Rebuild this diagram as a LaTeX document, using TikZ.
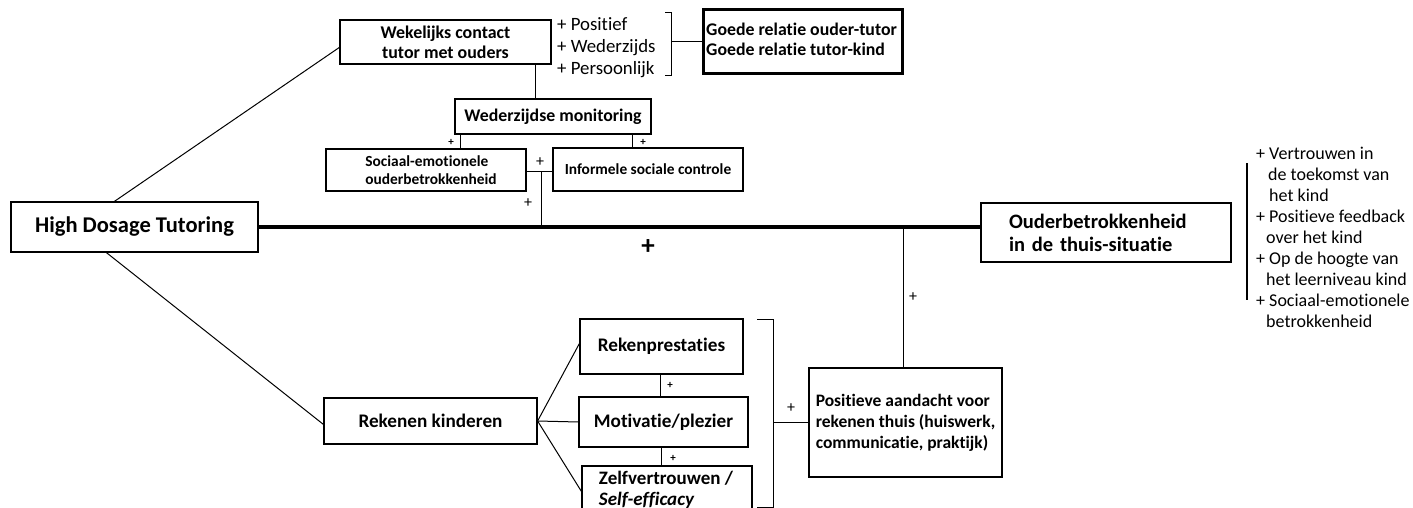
\documentclass[tikz,border=0pt]{standalone}
\usepackage{fontspec}
\setmainfont{Carlito}[Ligatures=NoCommon]
\usetikzlibrary{calc}
\newcommand{\fsz}[2]{\fontsize{#1}{#2}\selectfont}
\begin{document}
\begin{tikzpicture}[x=1pt,y=-1pt,
  box/.style={draw, line width=1.2pt, inner sep=0pt, align=center},
  conn/.style={line width=1pt},
  thickconn/.style={line width=3.5pt},
  plus/.style={inner sep=0pt, font=\fsz{16}{18}},
  smallplus/.style={inner sep=0pt, font=\bfseries\fsz{11}{12}},
  bigplus/.style={inner sep=0pt, font=\bfseries\fsz{27}{30}},
  ]
\useasboundingbox (0,0) rectangle (1413,508);

% top part
\node[box, minimum width=247, minimum height=50, font=\bfseries\fsz{22.5}{27}] (hdt) at (134.5,227) {High Dosage Tutoring};
\node[box, minimum width=211, minimum height=44, font=\bfseries\fsz{17.9}{20}] (wek) at (445.5,42) {Wekelijks contact\\tutor met ouders};
\node[anchor=west, align=left, inner sep=0pt, font=\fsz{18.8}{22}] (qual) at (557,48) {+ Positief\\+ Wederzijds\\+ Persoonlijk};
\node[draw, line width=3pt, minimum width=199, minimum height=64, inner sep=0pt] (goede) at (802.5,42) {};
\node[anchor=north west, align=left, inner sep=0pt, font=\bfseries\fsz{17.8}{20}] (goedetxt) at (706,23) {Goede relatie ouder-tutor\\Goede relatie tutor-kind};
\node[box, minimum width=196, minimum height=35, font=\bfseries\fsz{17.8}{20}] (wm) at (553,116.5) {Wederzijdse monitoring};
\node[box, minimum width=200, minimum height=42, align=left, font=\bfseries\fsz{15.4}{17.5}] (se) at (426,170) {\hspace*{10pt}Sociaal-emotionele\\\hspace*{10pt}ouderbetrokkenheid};
\node[box, minimum width=190, minimum height=43, font=\bfseries\fsz{15.4}{18}] (isc) at (648,169.5) {Informele sociale controle};
\node[box, text width=194, inner xsep=28, minimum height=59, align=left, font=\bfseries\fsz{20.5}{23}] (ouder) at (1106,232.5) {Ouderbetrokkenheid\\in de thuis-situatie};
\node[anchor=north west, align=left, inner sep=0pt, font=\fsz{18}{21}] (list) at (1256,147) {+ Vertrouwen in\\\hspace*{12pt}de toekomst van\\\hspace*{13pt}het kind\\+ Positieve feedback\\\hspace*{10pt}over het kind\\+ Op de hoogte van\\\hspace*{10pt}het leerniveau kind\\+ Sociaal-emotionele\\\hspace*{10pt}betrokkenheid};

% bottom part
\node[box, minimum width=213, minimum height=46, font=\bfseries\fsz{19.2}{23}] (rk) at (430.5,421) {Rekenen kinderen};
\node[box, minimum width=163, minimum height=55, font=\bfseries\fsz{19.2}{23}] (rp) at (661.5,346.5) {Rekenprestaties};
\node[box, minimum width=169, minimum height=50, font=\bfseries\fsz{19.2}{23}] (mp) at (663.5,422) {Motivatie/plezier};
\node[box, minimum width=170, minimum height=64] (zv) at (667,498) {};
\node[align=left, inner sep=0pt, font=\bfseries\fsz{19}{21}] (zvtxt) at (666,489.5) {Zelfvertrouwen /\\\textit{Self-efficacy}};
\node[box, minimum width=193, minimum height=109, align=left, font=\bfseries\fsz{17.5}{21}] (pos) at (905.5,422.5) {Positieve aandacht voor\\rekenen thuis (huiswerk,\\communicatie, praktijk)};

% coordinates
\coordinate (xwek) at (535,0);
\coordinate (xl) at (460,0);
\coordinate (xr) at (632,0);
\coordinate (jtop) at (541,171);
\coordinate (br1) at (671,42);
\coordinate (xrp) at (660,0);
\coordinate (xmp) at (661,0);
\coordinate (br2) at (773,422);
\coordinate (xpos) at (903,0);

% connectors
\draw[thickconn] (hdt.east) -- (hdt.east -| ouder.west);
\draw[conn] ($(hdt.north west)+(104,0)$) -- ($(wek.north west)+(0,28)$);
\draw[conn] ($(hdt.south west)+(96,0)$) -- ($(rk.north west)+(0,27)$);
\draw[conn] (wek.south -| xwek) -- (wm.north -| xwek);
\draw[conn] (wm.south -| xl) -- (se.north -| xl);
\draw[conn] (wm.south -| xr) -- (isc.north -| xr);
\draw[conn] (se.east |- jtop) -- (isc.west |- jtop);
\draw[conn] (jtop) -- (jtop |- hdt.east);
\draw[conn] (665,13) -- (671,13) -- (671,76) -- (665,76);
\draw[conn] (br1) -- (goede.west |- br1);
\draw[line width=1.3pt] (1247,163) -- (1247,300);

\draw[conn] (rk.east) -- ($(rp.west)+(0,-3)$);
\draw[conn] (rk.east) -- (mp.west);
\draw[conn] (rk.east) -- ($(zv.north west)+(0,26)$);
\draw[conn] (rp.south -| xrp) -- (mp.north -| xrp);
\draw[conn] (mp.south -| xmp) -- (zv.north -| xmp);
\draw[conn] (757,319) -- (773,319) -- (773,507) -- (757,507);
\draw[conn] (br2) -- (pos.west |- br2);
\draw[conn] (pos.north -| xpos) -- (hdt.east -| xpos);

% plus signs
\node[smallplus] (p1) at (451,142) {+};
\node[smallplus] (p2) at (643,142) {+};
\node[plus] (p3) at (540,162) {+};
\node[plus] (p4) at (528,203) {+};
\node[bigplus] (p5) at (648,247) {+};
\node[plus] (p6) at (913,297) {+};
\node[smallplus] (p7) at (670,385) {+};
\node[smallplus] (p8) at (673,458) {+};
\node[plus] (p9) at (791,408) {+};
\end{tikzpicture}
\end{document}
